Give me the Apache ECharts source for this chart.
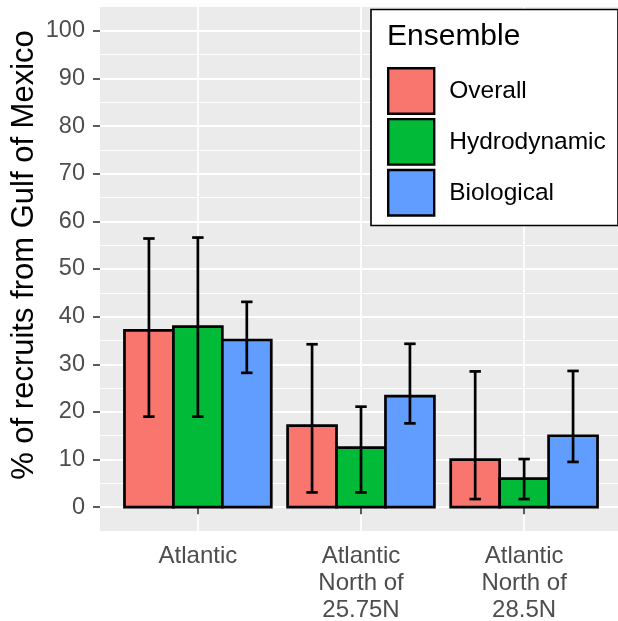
<!DOCTYPE html>
<html>
<head>
<meta charset="utf-8">
<script src="https://cdn.jsdelivr.net/npm/echarts@6/dist/echarts.min.js"></script>
<style>
html,body{margin:0;padding:0;background:#fff;}
#chart{width:618px;height:621px;}
</style>
</head>
<body>
<div id="chart"></div>
<script>
// ---- data ----
const categories = ['Atlantic', 'Atlantic\nNorth of\n25.75N', 'Atlantic\nNorth of\n28.5N'];
const seriesNames = ['Overall', 'Hydrodynamic', 'Biological'];
const overallMean = [37.1, 17.1, 10.0];
const overallLow  = [19.0, 3.1, 1.7];
const overallHigh = [56.4, 34.2, 28.5];
const hydroMean = [37.9, 12.5, 6.0];
const hydroLow  = [19.0, 3.1, 1.7];
const hydroHigh = [56.6, 21.1, 10.1];
const bioMean = [35.1, 23.3, 15.0];
const bioLow  = [28.2, 17.6, 9.5];
const bioHigh = [43.1, 34.3, 28.6];
const yMajorTicks = [0, 10, 20, 30, 40, 50, 60, 70, 80, 90, 100];
const yMinorTicks = [5, 15, 25, 35, 45, 55, 65, 75, 85, 95];
const colors = ['#F8766D', '#00BA38', '#619CFF'];

const FONT = "'Liberation Sans', Arial, sans-serif";
const means = [overallMean, hydroMean, bioMean];
const lows = [overallLow, hydroLow, bioLow];
const highs = [overallHigh, hydroHigh, bioHigh];

const BAR_W = 0.3;   // dodge width per bar (category units)
const CAP_W = 0.07;  // errorbar cap width

function renderItem(params, api) {
  const off = (params.seriesIndex - 1) * BAR_W;
  const x = api.value(0) + off;
  const v = api.value(1), lo = api.value(2), hi = api.value(3);
  const a = api.coord([x - BAR_W / 2, 0]);
  const b = api.coord([x + BAR_W / 2, v]);
  const eTop = api.coord([x, hi]);
  const eBot = api.coord([x, lo]);
  const cL = api.coord([x - CAP_W / 2, hi]);
  const cR = api.coord([x + CAP_W / 2, hi]);
  const lineStyle = { stroke: '#000', lineWidth: 2.7, fill: null };
  return {
    type: 'group',
    children: [
      { type: 'rect', shape: { x: a[0], y: b[1], width: b[0] - a[0], height: a[1] - b[1] },
        style: { fill: api.visual('color'), stroke: '#000', lineWidth: 2.7 } },
      { type: 'line', shape: { x1: eTop[0], y1: eTop[1], x2: eBot[0], y2: eBot[1] }, style: lineStyle },
      { type: 'line', shape: { x1: cL[0], y1: cL[1], x2: cR[0], y2: cR[1] }, style: lineStyle },
      { type: 'line', shape: { x1: cL[0], y1: eBot[1], x2: cR[0], y2: eBot[1] }, style: lineStyle }
    ]
  };
}

const series = seriesNames.map((name, i) => ({
  name: name,
  type: 'custom',
  renderItem: renderItem,
  color: colors[i],
  encode: { x: 0, y: 1 },
  data: categories.map((c, j) => [j + 1, means[i][j], lows[i][j], highs[i][j]]),
  z: 3
}));

const chart = echarts.init(document.getElementById('chart'), null, { renderer: 'canvas' });
chart.setOption({
  animation: false,
  textStyle: { fontFamily: FONT },
  grid: {
    left: 100, top: 7, width: 522, height: 524,
    outerBoundsMode: 'none', containLabel: false,
    show: true, backgroundColor: '#EBEBEB', borderWidth: 0
  },
  xAxis: {
    type: 'value', min: 0.4, max: 3.6,
    axisLine: { show: false },
    axisTick: { show: true, length: 7, customValues: [1, 2, 3], lineStyle: { color: '#333333', width: 1.6 } },
    axisLabel: {
      customValues: [1, 2, 3],
      formatter: v => categories[Math.round(v) - 1],
      color: '#4D4D4D', fontSize: 24, lineHeight: 27, margin: 12, fontFamily: FONT
    },
    splitLine: { show: true, lineStyle: { color: '#FFFFFF', width: 1.8 } }
  },
  yAxis: [
    {
      type: 'value', min: -5, max: 105,
      axisLine: { show: false },
      axisTick: { show: true, length: 7, customValues: yMajorTicks, lineStyle: { color: '#333333', width: 1.6 } },
      axisLabel: { customValues: yMajorTicks, color: '#4D4D4D', fontSize: 23.5, margin: 15, fontFamily: FONT },
      splitLine: { show: true, lineStyle: { color: '#FFFFFF', width: 1.8 } },
      name: '% of recruits from Gulf of Mexico',
      nameLocation: 'middle', nameGap: 60, nameMoveOverlap: false,
      nameTextStyle: { color: '#000', fontSize: 31, fontFamily: FONT, padding: [0, 0, 0, 28] }
    },
    {
      type: 'value', min: -5, max: 105, position: 'left',
      axisLine: { show: false },
      axisTick: { show: false, customValues: yMinorTicks },
      axisLabel: { show: false, customValues: yMinorTicks },
      splitLine: { show: true, lineStyle: { color: '#FFFFFF', width: 0.9 } }
    }
  ],
  legend: {
    data: seriesNames,
    orient: 'vertical',
    left: 387, top: 67, padding: 0,
    itemWidth: 46, itemHeight: 45.5, itemGap: 3,
    icon: 'rect',
    itemStyle: { borderColor: '#000', borderWidth: 2.4 },
    textStyle: { color: '#000', fontSize: 24.5, fontFamily: FONT, padding: [0, 0, 0, 10] },
    z: 20
  },
  graphic: [
    { type: 'rect', z: 15, shape: { x: 371, y: 9.5, width: 247, height: 216 },
      style: { fill: '#FFFFFF', stroke: '#000', lineWidth: 1.6 } },
    { type: 'text', z: 16, x: 387, y: 22,
      style: { text: 'Ensemble', fill: '#000', fontSize: 30, fontFamily: FONT } }
  ],
  series: series
});
</script>
</body>
</html>
